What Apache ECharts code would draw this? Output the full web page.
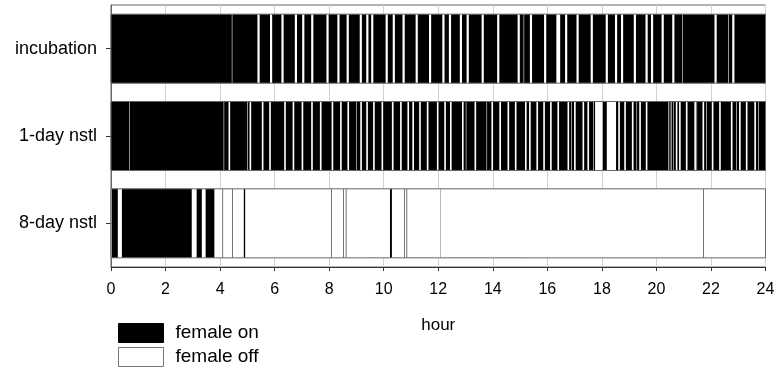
<!DOCTYPE html>
<html>
<head>
<meta charset="utf-8">
<script src="https://cdn.jsdelivr.net/npm/echarts@6/dist/echarts.min.js"></script>
<style>
  html, body { margin: 0; padding: 0; background: #fff; }
  #main { width: 781px; height: 370px; }
</style>
</head>
<body>
<div id="main"></div>
<script>
// rows of the chart (top to bottom)
const rows = ['incubation', '1-day nstl', '8-day nstl']
const hourTicks = [0, 2, 4, 6, 8, 10, 12, 14, 16, 18, 20, 22, 24]

// off-bouts [start, end] in hours
const incubationOff = [
  [4.43, 4.45], [5.37, 5.45], [5.83, 5.91], [6.25, 6.33], [6.74, 6.82], [7.01, 7.09], [7.34, 7.42], [7.90, 7.98],
  [8.30, 8.38], [8.64, 8.72], [9.12, 9.20], [9.36, 9.44], [9.54, 9.62], [10.07, 10.15], [10.33, 10.41], [10.69, 10.77],
  [11.17, 11.25], [11.66, 11.74], [12.15, 12.23], [12.39, 12.47], [12.79, 12.87], [13.04, 13.12], [13.59, 13.67],
  [14.16, 14.24], [14.91, 14.99], [15.13, 15.15], [15.36, 15.44], [15.88, 15.96],
  [16.33, 16.47], [16.65, 16.73], [17.07, 17.15], [17.59, 17.67], [18.14, 18.22], [18.48, 18.56], [18.70, 18.78],
  [19.17, 19.25], [19.60, 19.68], [19.80, 19.88], [20.19, 20.27], [20.58, 20.66], [20.94, 20.96],
  [22.13, 22.21], [22.63, 22.65], [22.78, 22.86]
]
const day1Off = [
  [0.66, 0.68], [4.13, 4.15], [4.31, 4.37], [5.00, 5.02], [5.08, 5.14], [5.53, 5.59], [5.80, 5.86], [6.35, 6.41],
  [6.66, 6.72], [6.99, 7.05], [7.34, 7.40], [7.66, 7.72],
  [8.09, 8.15], [8.40, 8.46], [8.67, 8.73], [9.00, 9.02], [9.14, 9.20], [9.36, 9.42], [9.61, 9.67], [9.92, 9.98],
  [10.30, 10.36], [10.60, 10.66], [10.87, 10.93], [11.05, 11.11], [11.30, 11.36], [11.58, 11.64], [11.95, 12.01],
  [12.22, 12.28], [12.43, 12.49], [12.87, 12.93], [13.01, 13.03], [13.33, 13.39], [13.77, 13.79], [13.95, 14.01],
  [14.24, 14.30], [14.54, 14.60], [14.81, 14.87], [15.18, 15.24], [15.33, 15.39], [15.60, 15.66], [15.85, 15.91],
  [16.10, 16.16], [16.37, 16.43], [16.74, 16.80], [16.88, 16.90], [16.98, 17.04], [17.29, 17.35], [17.47, 17.53],
  [17.68, 17.70], [17.75, 18.03], [18.18, 18.52], [18.60, 18.66], [18.82, 18.88], [19.10, 19.16], [19.27, 19.29],
  [19.37, 19.43], [19.61, 19.67], [20.43, 20.45], [20.49, 20.51], [20.55, 20.57], [20.61, 20.63], [20.71, 20.77],
  [20.83, 20.89], [21.08, 21.14], [21.39, 21.45], [21.47, 21.49], [21.69, 21.75], [21.83, 21.85], [22.03, 22.09],
  [22.30, 22.36], [22.73, 22.79], [22.93, 22.95], [23.03, 23.09], [23.28, 23.34], [23.59, 23.65], [23.73, 23.75]
]
const day8Off = [
  [0, 0.03], [0.25, 0.40], [2.96, 3.14], [3.33, 3.47], [3.79, 4.09], [4.11, 4.45], [4.47, 4.87], [4.92, 8.08],
  [8.10, 8.51], [8.53, 8.61], [8.63, 10.23], [10.30, 10.75], [10.77, 10.84], [10.86, 12.09], [12.10, 21.72],
  [21.74, 24]
]
const offBouts = [incubationOff, day1Off, day8Off]

// on-bouts are the rest of the 24 h session
function onFromOff(off) {
  const on = []
  let t = 0
  off.forEach(([s, e]) => {
    if (s > t) on.push([t, s])
    t = Math.max(t, e)
  })
  if (t < 24) on.push([t, 24])
  return on
}

const onData = []
const offData = []
const sessionData = []
offBouts.forEach((off, row) => {
  off.forEach(([s, e]) => offData.push([s, e, row]))
  onFromOff(off).forEach(([s, e]) => onData.push([s, e, row]))
  sessionData.push([0, 24, row])
})

function makeRender(style) {
  return function (params, api) {
    const row = api.value(2)
    const start = api.coord([api.value(0), row])
    const end = api.coord([api.value(1), row])
    const h = api.size([0, 1])[1] * 0.79
    return {
      type: 'rect',
      shape: { x: start[0], y: start[1] - h / 2, width: end[0] - start[0], height: h },
      style: style
    }
  }
}

const myChart = echarts.init(document.getElementById('main'))
myChart.setOption({
  animation: false,
  textStyle: { fontFamily: 'Liberation Sans, Arial, sans-serif' },
  legend: {
    data: [
      { name: 'female on', itemStyle: { color: '#000', borderColor: '#000', borderWidth: 1 } },
      { name: 'female off', itemStyle: { color: '#fff', borderColor: '#777', borderWidth: 1 } }
    ],
    orient: 'vertical',
    left: 118,
    top: 323,
    padding: 0,
    itemWidth: 45,
    itemHeight: 19,
    itemGap: 4,
    icon: 'rect',
    selectedMode: false,
    textStyle: { fontSize: 19, color: '#000', padding: [0, 0, 0, 7] }
  },
  grid: {
    left: 111,
    right: 15.5,
    top: 5,
    bottom: 103,
    show: true,
    borderColor: '#666',
    borderWidth: 1
  },
  xAxis: {
    type: 'value',
    min: 0,
    max: 24,
    interval: 2,
    name: 'hour',
    nameLocation: 'middle',
    nameGap: 50,
    nameTextStyle: { fontSize: 17, color: '#000' },
    axisLine: { show: true, lineStyle: { color: '#333' } },
    axisTick: { show: true, length: 4, lineStyle: { color: '#333' } },
    axisLabel: {
      fontSize: 16,
      color: '#000',
      margin: 15,
      formatter: v => (hourTicks.includes(v) ? String(v) : '')
    },
    splitLine: { show: true, lineStyle: { color: '#d0d0d0' } }
  },
  yAxis: {
    type: 'category',
    data: rows,
    inverse: true,
    axisLine: { show: true, lineStyle: { color: '#666' } },
    axisTick: { show: true, alignWithLabel: true, length: 5, lineStyle: { color: '#333' } },
    axisLabel: { fontSize: 18, color: '#000', margin: 14 },
    splitLine: { show: false }
  },
  series: [
    {
      name: 'female off',
      type: 'custom',
      renderItem: makeRender({ fill: '#fff' }),
      itemStyle: { color: '#fff', borderColor: '#777', borderWidth: 1 },
      encode: { x: [0, 1], y: 2 },
      data: offData,
      silent: true
    },
    {
      name: 'female on',
      type: 'custom',
      renderItem: makeRender({ fill: '#000' }),
      itemStyle: { color: '#000' },
      encode: { x: [0, 1], y: 2 },
      data: onData,
      silent: true
    },
    {
      name: 'session',
      type: 'custom',
      renderItem: makeRender({ fill: 'none', stroke: '#666', lineWidth: 1 }),
      encode: { x: [0, 1], y: 2 },
      data: sessionData,
      silent: true,
      z: 5
    }
  ]
})
window.addEventListener('resize', () => {
  myChart.resize()
})
</script>
</body>
</html>
